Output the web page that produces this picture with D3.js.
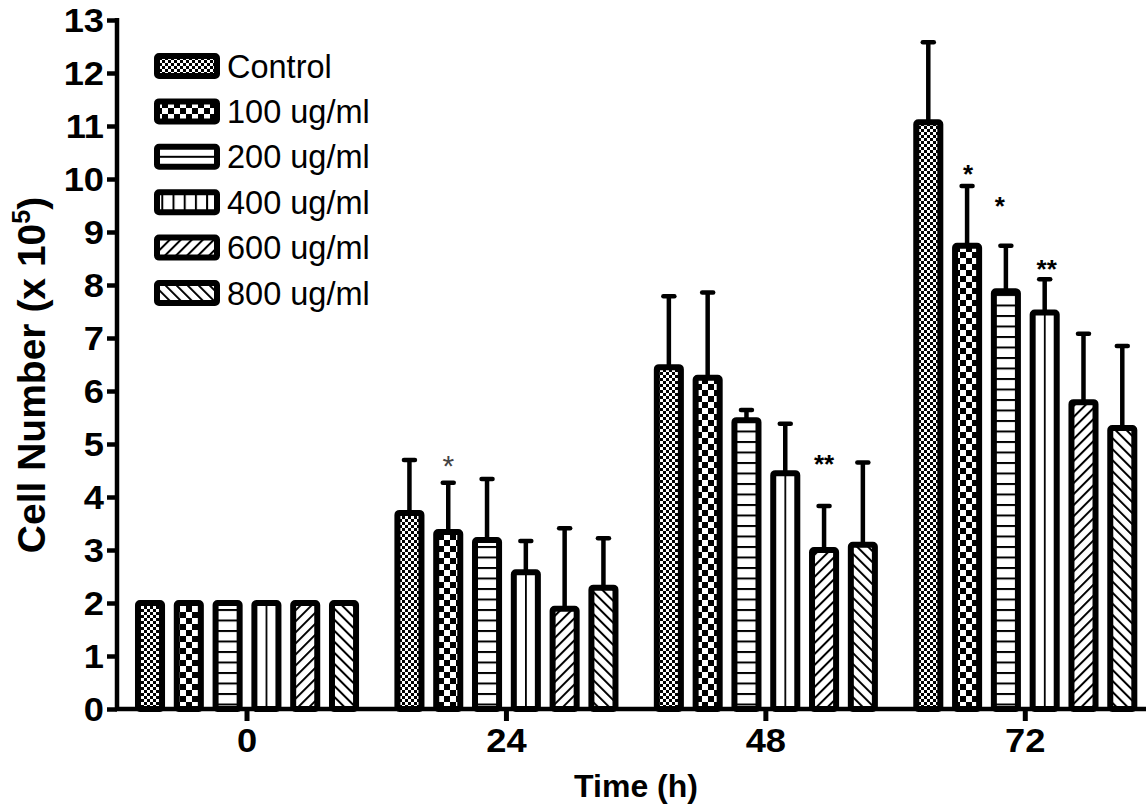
<!DOCTYPE html>
<html>
<head>
<meta charset="utf-8">
<script src="https://cdn.jsdelivr.net/npm/d3@7"></script>
<style>
  html, body { margin: 0; padding: 0; background: #fff; }
  svg { display: block; }
  text { font-family: "Liberation Sans", Arial, Helvetica, sans-serif; }
</style>
</head>
<body>
<svg id="chart" width="1146" height="811"></svg>
<script>
// Time points (h) on the x axis
const times = ["0", "24", "48", "72"];
// Treatment groups, in drawing order
const groups = ["Control", "100 ug/ml", "200 ug/ml", "400 ug/ml", "600 ug/ml", "800 ug/ml"];

// Mean cell number (x 10^5) per group, one value per time point
const meanControl = [2.00, 3.70, 6.45, 11.07];
const mean100     = [2.00, 3.34, 6.25, 8.74];
const mean200     = [2.00, 3.19, 5.45, 7.88];
const mean400     = [2.00, 2.58, 4.45, 7.48];
const mean600     = [2.00, 1.89, 3.00, 5.79];
const mean800     = [2.00, 2.29, 3.10, 5.30];

// Standard deviation per group, one value per time point
const sdControl = [0, 1.00, 1.34, 1.51];
const sd100     = [0, 0.93, 1.61, 1.13];
const sd200     = [0, 1.15, 0.19, 0.86];
const sd400     = [0, 0.59, 0.93, 0.63];
const sd600     = [0, 1.52, 0.83, 1.29];
const sd800     = [0, 0.93, 1.55, 1.55];

// y-axis ticks
const yTicks = [0,1,2,3,4,5,6,7,8,9,10,11,12,13];

// Significance marks
const marks = [
  { time: "24", group: "100 ug/ml", label: "*" },
  { time: "48", group: "600 ug/ml", label: "**" },
  { time: "72", group: "100 ug/ml", label: "*" },
  { time: "72", group: "200 ug/ml", label: "*" },
  { time: "72", group: "400 ug/ml", label: "**" }
];

const means = [meanControl, mean100, mean200, mean400, mean600, mean800];
const sds = [sdControl, sd100, sd200, sd400, sd600, sd800];
const patternIds = ["pControl", "p100", "p200", "p400", "p600", "p800"];

const rows = [];
times.forEach((t, ti) => groups.forEach((g, gi) => {
  rows.push({ time: t, group: g, gi, mean: means[gi][ti], sd: sds[gi][ti] });
}));

const svg = d3.select("#chart");
const defs = svg.append("defs");

// ---- fill patterns ----
function pat(id, w, h) {
  const p = defs.append("pattern").attr("id", id)
    .attr("patternUnits", "userSpaceOnUse").attr("width", w).attr("height", h);
  p.append("rect").attr("width", w).attr("height", h).attr("fill", "#fff");
  return p;
}
// fine checkerboard
let p = pat("pControl", 6, 6);
p.append("rect").attr("width", 3).attr("height", 3).attr("fill", "#000");
p.append("rect").attr("x", 3).attr("y", 3).attr("width", 3).attr("height", 3).attr("fill", "#000");
// coarse checkerboard
p = pat("p100", 12, 12);
p.append("rect").attr("width", 6).attr("height", 6).attr("fill", "#000");
p.append("rect").attr("x", 6).attr("y", 6).attr("width", 6).attr("height", 6).attr("fill", "#000");
// horizontal lines
p = pat("p200", 10, 10.5);
p.append("rect").attr("y", 0).attr("width", 10).attr("height", 2).attr("fill", "#000");
// single horizontal line through the legend swatch
p = defs.append("pattern").attr("id", "p200L")
  .attr("patternUnits", "objectBoundingBox").attr("y", -0.05).attr("width", 1).attr("height", 0.5);
p.append("rect").attr("width", 200).attr("height", 200).attr("fill", "#fff");
p.append("rect").attr("width", 200).attr("height", 2).attr("fill", "#000");
// vertical line through the middle of each bar
p = defs.append("pattern").attr("id", "p400")
  .attr("patternUnits", "objectBoundingBox").attr("x", -0.035).attr("width", 0.5).attr("height", 1);
p.append("rect").attr("width", 40).attr("height", 2000).attr("fill", "#fff");
p.append("rect").attr("width", 1.8).attr("height", 2000).attr("fill", "#000");
// vertical lines for the legend swatch
p = pat("p400L", 11.2, 10).attr("x", 4.5);
p.append("rect").attr("x", 0).attr("width", 2).attr("height", 10).attr("fill", "#000");
// diagonal "/" lines
p = pat("p600", 7.8, 7.8).attr("patternTransform", "rotate(45)");
p.append("rect").attr("width", 2).attr("height", 7.8).attr("fill", "#000");
// diagonal "\" lines
p = pat("p800", 7.8, 7.8).attr("patternTransform", "rotate(-45)");
p.append("rect").attr("width", 2).attr("height", 7.8).attr("fill", "#000");

// ---- scales ----
const y = d3.scaleLinear().domain([0, 13]).range([709, 20]);
const x0 = d3.scaleBand().domain(times).range([117.3, 1155]).padding(0);
const x1 = d3.scaleBand().domain(groups).range([0, 232.8]).paddingInner(0.38).paddingOuter(0.19);
const groupOffset = (x0.bandwidth() - 232.8) / 2;
const barCenter = d => x0(d.time) + groupOffset + x1(d.group) + x1.bandwidth() / 2;

// ---- error bars (upper only) ----
const eb = svg.append("g").attr("stroke", "#000");
const withErr = rows.filter(d => d.sd > 0);
eb.selectAll("line.v").data(withErr).join("line")
  .attr("x1", barCenter).attr("x2", barCenter)
  .attr("y1", d => y(d.mean)).attr("y2", d => y(d.mean + d.sd))
  .attr("stroke-width", 4.5);
eb.selectAll("line.c").data(withErr).join("line")
  .attr("x1", d => barCenter(d) - 5.5).attr("x2", d => barCenter(d) + 5.5)
  .attr("y1", d => y(d.mean + d.sd)).attr("y2", d => y(d.mean + d.sd))
  .attr("stroke-width", 4.5).attr("stroke-linecap", "round");

// ---- bars ----
svg.append("g").selectAll("rect").data(rows).join("rect")
  .attr("x", d => barCenter(d) - x1.bandwidth() / 2)
  .attr("width", x1.bandwidth())
  .attr("y", d => y(d.mean))
  .attr("height", d => y(0) - y(d.mean))
  .attr("rx", 2)
  .attr("fill", d => `url(#${patternIds[d.gi]})`)
  .attr("stroke", "#000").attr("stroke-width", 6);

// ---- axes ----
const stretch = 1.1;
const yAxis = svg.append("g").attr("transform", "translate(117,0)")
  .call(d3.axisLeft(y).tickValues(yTicks).tickFormat(d3.format("d")).tickSize(10).tickPadding(4));
yAxis.select(".domain").attr("stroke-width", 4.5).attr("d", `M0,${y(13) - 2}V${y(0) + 2}`);
yAxis.selectAll(".tick line").attr("stroke-width", 4.5);
yAxis.selectAll(".tick text")
  .attr("font-size", 33).attr("font-weight", "bold").attr("fill", "#000")
  .attr("font-family", "Liberation Sans, Arial, sans-serif")
  .attr("dy", "0.36em")
  .attr("transform", `scale(${stretch},1)`)
  .attr("x", -13 / stretch);

const xAxis = svg.append("g").attr("transform", `translate(0,${y(0)})`)
  .call(d3.axisBottom(x0).tickSize(12).tickPadding(8));
xAxis.select(".domain").attr("stroke-width", 4.5).attr("d", "M115,0H1146");
xAxis.selectAll(".tick line").attr("stroke-width", 5);
xAxis.selectAll(".tick text")
  .attr("font-size", 33).attr("font-weight", "bold").attr("fill", "#000")
  .attr("font-family", "Liberation Sans, Arial, sans-serif")
  .attr("transform", `scale(${stretch},1)`);

// ---- axis titles ----
svg.append("text").attr("x", 636).attr("y", 797).attr("text-anchor", "middle")
  .attr("font-size", 32).attr("font-weight", "bold").text("Time (h)");

const yt = svg.append("text").attr("transform", "translate(45,375) rotate(-90)")
  .attr("text-anchor", "middle").attr("font-size", 39).attr("font-weight", "bold");
yt.append("tspan").text("Cell Number (x 10");
yt.append("tspan").attr("font-size", 25).attr("dy", -15).text("5");
yt.append("tspan").attr("dy", 15).text(")");

// ---- significance marks ----
const markStyle = {
  "24|100 ug/ml": { dy: -24, dx: 0, weight: "normal", fill: "#444", size: 30 },
  "48|600 ug/ml": { dy: -48, dx: 0, weight: "bold", fill: "#000", size: 26 },
  "72|100 ug/ml": { dy: -18, dx: 1, weight: "bold", fill: "#000", size: 26 },
  "72|200 ug/ml": { dy: -46, dx: -6, weight: "bold", fill: "#000", size: 26 },
  "72|400 ug/ml": { dy: -16, dx: 2, weight: "bold", fill: "#000", size: 26 }
};
svg.append("g").selectAll("text").data(marks).join("text")
  .each(function(m) {
    const r = rows.find(d => d.time === m.time && d.group === m.group);
    const s = markStyle[m.time + "|" + m.group];
    d3.select(this)
      .attr("x", barCenter(r) + s.dx)
      .attr("y", y(r.mean + r.sd) + s.dy + s.size * 0.58)
      .attr("text-anchor", "middle")
      .attr("font-size", s.size).attr("font-weight", s.weight).attr("fill", s.fill)
      .text(m.label);
  });

// ---- legend ----
const legend = svg.append("g");
const legendPatterns = ["pControl", "p100", "p200L", "p400L", "p600", "p800"];
groups.forEach((g, i) => {
  const top = 56 + i * 45.4;
  legend.append("rect").attr("x", 157).attr("y", top).attr("width", 60).attr("height", 20)
    .attr("rx", 2).attr("fill", `url(#${legendPatterns[i]})`)
    .attr("stroke", "#000").attr("stroke-width", 6);
  legend.append("text").attr("x", 227).attr("y", top + 21.5)
    .attr("font-size", 32.5).text(g);
});
</script>
</body>
</html>
